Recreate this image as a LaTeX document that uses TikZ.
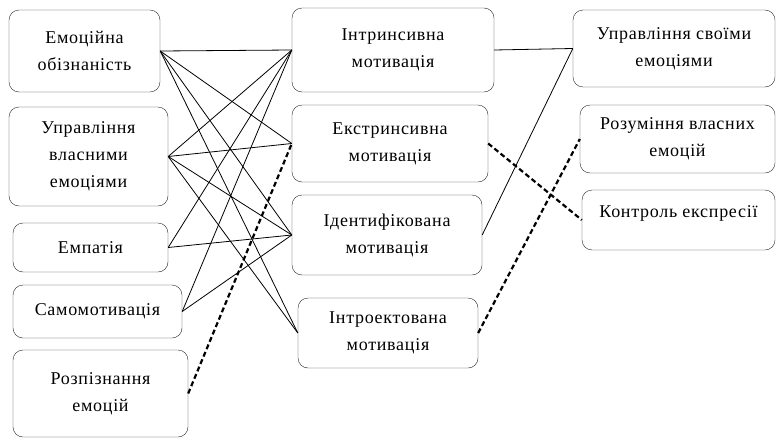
\documentclass[tikz,border=0pt]{standalone}
\usepackage{fontspec}
\setmainfont[LetterSpace=4]{Liberation Serif}
\begin{document}
\begin{tikzpicture}[x=1pt,y=-1pt]
\tikzstyle{blok}=[draw=black!85, rounded corners=10pt, align=center, inner sep=0pt, font=\fontsize{18}{27}\selectfont]
\tikzstyle{zv}=[line width=0.8pt]
\tikzstyle{pr}=[line width=2.2pt, dash pattern=on 5pt off 3pt]
\useasboundingbox (0,0) rectangle (776,439);
% ліва колонка
\node[blok, minimum width=151pt, minimum height=82pt] (obiz) at (84.5,51) {Емоційна\\обізнаність};
\node[blok, minimum width=159pt, minimum height=99pt] (uvl) at (88.5,156.5) {Управління\\власними\\емоціями};
\node[blok, minimum width=155pt, minimum height=49pt] (emp) at (90.5,247.5) {Емпатія};
\node[blok, minimum width=169pt, minimum height=53pt] (samo) at (97.5,311.5) {Самомотивація};
\node[blok, minimum width=175pt, minimum height=87pt] (rozp) at (100.5,393.5) {Розпізнання\\емоцій};
% мотивація
\node[blok, minimum width=202pt, minimum height=84pt] (intr) at (393,50) {Інтринсивна\\мотивація};
\node[blok, minimum width=196pt, minimum height=77pt] (ekstr) at (390,143.5) {Екстринсивна\\мотивація};
\node[blok, minimum width=190pt, minimum height=80pt] (ident) at (387,235) {Ідентифікована\\мотивація};
\node[blok, minimum width=180pt, minimum height=70pt] (introe) at (388,333) {Інтроектована\\мотивація};
% права колонка
\node[blok, minimum width=202pt, minimum height=77pt] (usvo) at (674,48.5) {Управління своїми\\емоціями};
\node[blok, minimum width=195pt, minimum height=68pt] (rozum) at (677.5,139) {Розуміння власних\\емоцій};
\node[blok, minimum width=193pt, minimum height=60pt] (kontr) at (678.5,220) {\smash{\raisebox{3pt}{Контроль експресії}}};
% зв'язки
\draw[zv] (obiz.east) -- (intr.west);
\draw[zv] (obiz.east) -- (ekstr.west);
\draw[zv] (obiz.east) -- (ident.west);
\draw[zv] (obiz.east) -- (introe.west);
\draw[zv] (uvl.east) -- (intr.west);
\draw[zv] (uvl.east) -- (ekstr.west);
\draw[zv] (uvl.east) -- (ident.west);
\draw[zv] (uvl.east) -- (introe.west);
\draw[zv] (emp.east) -- (intr.west);
\draw[zv] (emp.east) -- (ident.west);
\draw[zv] (samo.east) -- (intr.west);
\draw[zv] (samo.east) -- (ident.west);
\draw[pr] (rozp.east) -- (ekstr.west);
\draw[zv] (intr.east) -- (usvo.west);
\draw[zv] (ident.east) -- (usvo.west);
\draw[pr] (ekstr.east) -- (kontr.west);
\draw[pr] (introe.east) -- (rozum.west);
\end{tikzpicture}
\end{document}
